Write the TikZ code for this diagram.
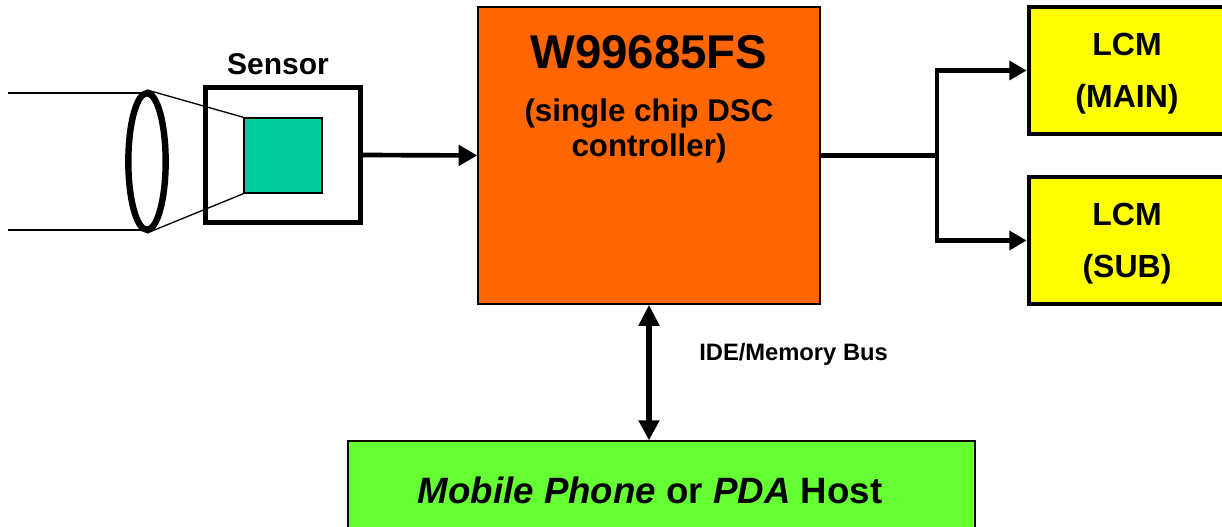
\documentclass[tikz,border=0pt]{standalone}
\usepackage{fontspec}
\setmainfont{Liberation Sans}
\usetikzlibrary{arrows.meta}
\usetikzlibrary{shapes}

\definecolor{chiporange}{HTML}{FF6600}
\definecolor{lcmyellow}{HTML}{FFFF00}
\definecolor{hostgreen}{HTML}{66FF33}
\definecolor{ccdteal}{HTML}{00CC99}

\tikzset{
  heavy/.style={line width=3.5pt},
  light/.style={line width=1pt},
  headarrow/.style={-{Triangle[length=14pt,width=15pt]}},
  bothheads/.style={{Triangle[length=13pt,width=14pt]}-{Triangle[length=13pt,width=14pt]}},
  busheads/.style={{Triangle[length=16pt,width=15pt]}-{Triangle[length=15pt,width=15pt]}},
  box/.style={draw, rectangle, inner sep=0pt},
  lcmtext/.style={inner sep=0.75pt, align=center, font=\fontsize{24}{39}\selectfont\bfseries},
}

\begin{document}
\begin{tikzpicture}[x=0.75pt,y=0.75pt,yscale=-1,xscale=1]
\useasboundingbox (0,0) rectangle (1222,527);
\clip (0,0) rectangle (1222,527);
%Shape: Rectangle (host)
\draw (661.5,500.5) node [box, light, fill=hostgreen, minimum width=470.25pt, minimum height=89.25pt] (host) {};
%Shape: Rectangle (chip)
\draw (649,155.5) node [box, light, fill=chiporange, minimum width=256.5pt, minimum height=222.75pt] (chip) {};
%Shape: Rectangle (sensor)
\draw (283,155) node [box, heavy, minimum width=116pt, minimum height=101pt] (sensor) {};
%Shape: Rectangle (ccd)
\draw (283,155.5) node [box, line width=1.1pt, fill=ccdteal, minimum width=58.5pt, minimum height=56.25pt] (ccd) {};
%Shape: Ellipse (lens)
\draw (147,161.5) node [draw, ellipse, line width=4.8pt, inner sep=0pt, minimum width=28pt, minimum height=102.5pt] (lens) {};
%Shape: Rectangle (lcm main)
\draw (1127,70.5) node [box, heavy, fill=lcmyellow, minimum width=147pt, minimum height=95.25pt] (lcmmain) {};
%Shape: Rectangle (lcm sub)
\draw (1127,240.5) node [box, heavy, fill=lcmyellow, minimum width=147pt, minimum height=95.25pt] (lcmsub) {};
%Light rays
\coordinate (raytop) at (8,93);
\coordinate (raybot) at (8,230);
\draw [line width=0.8pt] (raytop) -- (raytop -| lens.north);
\draw [line width=0.8pt] (raybot) -- (raybot -| lens.south);
\draw [line width=1pt] (lens.north) -- (ccd.north west);
\draw [line width=1pt] (lens.south) -- (ccd.south west);
%Arrow sensor to chip
\draw [heavy, headarrow] (sensor.east) -- (chip.west);
%Branch to the two LCMs
\coordinate (split) at (937,155.5);
\draw [heavy] (chip.east) -- (split);
\draw [heavy, bothheads, line join=miter] (lcmmain.west) -| (split) |- (lcmsub.west);
%Bus arrow
\draw [line width=4pt, busheads] (chip.south) -- (chip.south |- host.north);
% Text Node
\draw (278,64.5) node [inner sep=0.75pt, font=\fontsize{22.5}{27}\selectfont\bfseries] (sensorlbl) {Sensor};
% Text Node
\draw (649,52) node [inner sep=0.75pt, font=\fontsize{35.5}{42}\selectfont\bfseries] (chipname) {W99685FS};
% Text Node
\draw (649,131) node [inner sep=0.75pt, align=center, font=\fontsize{23.5}{26.25}\selectfont\bfseries] (chipdesc) {(single chip DSC\\controller)};
% Text Node
\draw (1127,73.5) node [lcmtext] (mainlbl) {LCM\\(MAIN)};
% Text Node
\draw (1127,243.5) node [lcmtext] (sublbl) {LCM\\(SUB)};
% Text Node
\draw (698,354) node [anchor=west, inner sep=0.75pt, font=\fontsize{17.8}{21}\selectfont\bfseries] (buslbl) {IDE/Memory Bus};
% Text Node
\draw (650,490) node [inner sep=0.75pt, font=\fontsize{27.5}{33}\selectfont\bfseries] (hostlbl) {\textit{Mobile Phone} or \textit{PDA} Host};
\end{tikzpicture}
\end{document}
